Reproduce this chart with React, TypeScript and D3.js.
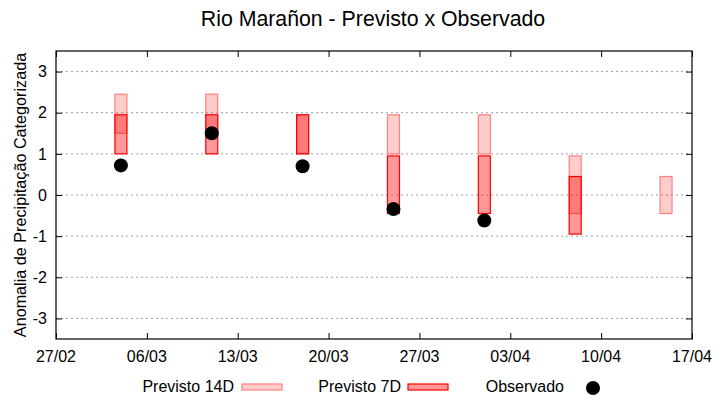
import React, { useEffect, useRef } from 'react';
import * as d3 from 'd3';

// Week start dates of each forecast
const dates = ['2025-03-04', '2025-03-11', '2025-03-18', '2025-03-25', '2025-04-01', '2025-04-08', '2025-04-15'];
const prev14Low = [1.5, 1.5, 1.0, 1.0, 1.0, -0.45, -0.45];
const prev14High = [2.45, 2.45, 1.95, 1.95, 1.95, 0.95, 0.45];
const prev7Low: (number | null)[] = [1.0, 1.0, 1.0, -0.45, -0.45, -0.95, null];
const prev7High: (number | null)[] = [1.95, 1.95, 1.95, 0.95, 0.95, 0.45, null];
const observed: (number | null)[] = [0.72, 1.5, 0.7, -0.34, -0.62, null, null];

const xTicks = ['2025-02-27', '2025-03-06', '2025-03-13', '2025-03-20', '2025-03-27', '2025-04-03', '2025-04-10', '2025-04-17'];
const yTicks = [-3, -2, -1, 0, 1, 2, 3];

const parse = d3.utcParse('%Y-%m-%d');
const FONT = '"Liberation Sans", Arial, sans-serif';

export default function App() {
  const svgRef = useRef<SVGSVGElement | null>(null);

  useEffect(() => {
    if (!svgRef.current) return;
    const svg = d3.select(svgRef.current);
    svg.selectAll('*').remove();

    const width = 720;
    const height = 400;
    const margin = { top: 51, right: 28, bottom: 61, left: 56 };

    const x = d3.scaleUtc()
      .domain([parse(xTicks[0])!, parse(xTicks[xTicks.length - 1])!])
      .range([margin.left, width - margin.right]);

    const y = d3.scaleLinear()
      .domain([-3.5, 3.5])
      .range([height - margin.bottom, margin.top]);

    const boxW = 12;

    // Grid
    svg.append('g')
      .selectAll('line')
      .data(yTicks)
      .join('line')
      .attr('x1', margin.left)
      .attr('x2', width - margin.right)
      .attr('y1', d => y(d))
      .attr('y2', d => y(d))
      .attr('stroke', '#a0a0a0')
      .attr('stroke-width', 1)
      .attr('stroke-dasharray', '2,3');

    // Axes ticks (gnuplot style, inward + mirrored)
    const tickLen = 6;
    const yAxisL = d3.axisRight(y).tickValues(yTicks).tickSize(tickLen).tickFormat(() => '');
    const yAxisR = d3.axisLeft(y).tickValues(yTicks).tickSize(tickLen).tickFormat(() => '');
    const xTickDates = xTicks.map(t => parse(t)!);
    const xAxisB = d3.axisTop(x).tickValues(xTickDates).tickSize(tickLen).tickFormat(() => '');
    const xAxisT = d3.axisBottom(x).tickValues(xTickDates).tickSize(tickLen).tickFormat(() => '');

    svg.append('g').attr('transform', `translate(${margin.left},0)`).call(yAxisL).call(g => g.select('.domain').remove());
    svg.append('g').attr('transform', `translate(${width - margin.right},0)`).call(yAxisR).call(g => g.select('.domain').remove());
    svg.append('g').attr('transform', `translate(0,${height - margin.bottom})`).call(xAxisB).call(g => g.select('.domain').remove());
    svg.append('g').attr('transform', `translate(0,${margin.top})`).call(xAxisT).call(g => g.select('.domain').remove());
    svg.selectAll('.tick line').attr('stroke', '#000');

    // Tick labels
    svg.append('g')
      .attr('font-family', FONT)
      .attr('font-size', 16)
      .attr('text-anchor', 'end')
      .selectAll('text')
      .data(yTicks)
      .join('text')
      .attr('x', margin.left - 9)
      .attr('y', d => y(d))
      .attr('dy', '0.36em')
      .text(d => String(d));

    svg.append('g')
      .attr('font-family', FONT)
      .attr('font-size', 16)
      .attr('text-anchor', 'middle')
      .selectAll('text')
      .data(xTickDates)
      .join('text')
      .attr('x', d => x(d))
      .attr('y', height - margin.bottom + 23)
      .text(d => d3.utcFormat('%d/%m')(d));

    // Boxes
    const idx = d3.range(dates.length);
    svg.append('g')
      .selectAll('rect')
      .data(idx)
      .join('rect')
      .attr('x', i => x(parse(dates[i])!) - boxW / 2)
      .attr('width', boxW)
      .attr('y', i => y(prev14High[i]))
      .attr('height', i => y(prev14Low[i]) - y(prev14High[i]))
      .attr('fill', '#ff0000')
      .attr('fill-opacity', 0.2)
      .attr('stroke', '#ff8080')
      .attr('stroke-width', 1.2);

    svg.append('g')
      .selectAll('rect')
      .data(idx.filter(i => prev7Low[i] !== null))
      .join('rect')
      .attr('x', i => x(parse(dates[i])!) - boxW / 2)
      .attr('width', boxW)
      .attr('y', i => y(prev7High[i]!))
      .attr('height', i => y(prev7Low[i]!) - y(prev7High[i]!))
      .attr('fill', '#ff0000')
      .attr('fill-opacity', 0.4)
      .attr('stroke', '#ff0000')
      .attr('stroke-width', 1.2);

    // Observed
    svg.append('g')
      .selectAll('circle')
      .data(idx.filter(i => observed[i] !== null))
      .join('circle')
      .attr('cx', i => x(parse(dates[i])!))
      .attr('cy', i => y(observed[i]!))
      .attr('r', 7)
      .attr('fill', '#000');

    // Frame
    svg.append('rect')
      .attr('x', margin.left)
      .attr('y', margin.top)
      .attr('width', width - margin.left - margin.right)
      .attr('height', height - margin.top - margin.bottom)
      .attr('fill', 'none')
      .attr('stroke', '#000')
      .attr('stroke-width', 1.2);

    // Title
    svg.append('text')
      .attr('x', (margin.left + width - margin.right) / 2 - 1)
      .attr('y', 26)
      .attr('text-anchor', 'middle')
      .attr('font-family', FONT)
      .attr('font-size', 21.3)
      .text('Rio Marañon - Previsto x Observado');

    // Y label
    svg.append('text')
      .attr('transform', `translate(26,${(margin.top + height - margin.bottom) / 2}) rotate(-90)`)
      .attr('text-anchor', 'middle')
      .attr('font-family', FONT)
      .attr('font-size', 16.2)
      .text('Anomalia de Precipitação Categorizada');

    // Legend
    const legend = svg.append('g').attr('font-family', FONT).attr('font-size', 16);
    const legendY = 386;
    const items = [
      { label: 'Previsto 14D', textEnd: 234, kind: 'p14' },
      { label: 'Previsto 7D', textEnd: 401, kind: 'p7' },
      { label: 'Observado', textEnd: 564, kind: 'obs' },
    ];
    items.forEach(it => {
      legend.append('text')
        .attr('x', it.textEnd)
        .attr('y', legendY)
        .attr('dy', '0.36em')
        .attr('text-anchor', 'end')
        .text(it.label);
      if (it.kind === 'p14') {
        legend.append('rect').attr('x', it.textEnd + 8).attr('y', legendY - 2).attr('width', 40).attr('height', 6)
          .attr('fill', '#ff0000').attr('fill-opacity', 0.2).attr('stroke', '#ff8080').attr('stroke-width', 1.2);
      } else if (it.kind === 'p7') {
        legend.append('rect').attr('x', it.textEnd + 7).attr('y', legendY - 2).attr('width', 40).attr('height', 6)
          .attr('fill', '#ff0000').attr('fill-opacity', 0.4).attr('stroke', '#ff0000').attr('stroke-width', 1.2);
      } else {
        legend.append('circle').attr('cx', it.textEnd + 29).attr('cy', legendY + 2).attr('r', 7).attr('fill', '#000');
      }
    });
  }, []);

  return (
    <svg
      ref={svgRef}
      width={720}
      height={400}
      style={{ position: 'absolute', left: 0, top: 0, background: '#fff' }}
    />
  );
}
